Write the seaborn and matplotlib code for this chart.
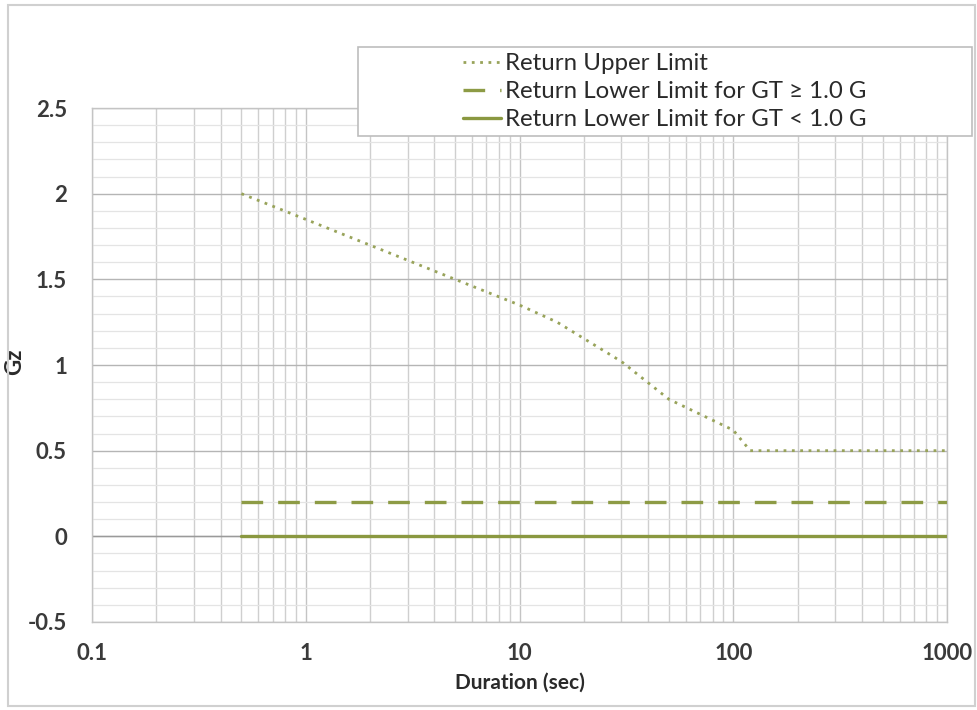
import numpy as np
import pandas as pd
import matplotlib
matplotlib.use("Agg")
import matplotlib.pyplot as plt
import matplotlib.ticker as mticker
from matplotlib.patches import Rectangle
import seaborn as sns

sns.set_theme(style="white")
plt.rcParams['font.family'] = ['Lato', 'DejaVu Sans']

# data
upper_duration = [0.5, 1, 5, 10, 15, 30, 50, 100, 120, 1000]
upper_gz = [2.0, 1.85, 1.5, 1.35, 1.25, 1.02, 0.8, 0.62, 0.5, 0.5]
lower_duration = [0.5, 1000]
lower_gz_high = [0.2, 0.2]
lower_gz_low = [0.0, 0.0]

labels = ["Return Upper Limit",
          "Return Lower Limit for GT \u2265 1.0 G",
          "Return Lower Limit for GT < 1.0 G"]

df_upper = pd.DataFrame({"Duration": upper_duration, "Gz": upper_gz})
df_high = pd.DataFrame({"Duration": lower_duration, "Gz": lower_gz_high})
df_low = pd.DataFrame({"Duration": lower_duration, "Gz": lower_gz_low})

fig = plt.figure(figsize=(9.77, 7.10), dpi=100)
ax = fig.add_axes([92 / 977, 1 - 622 / 710, (947 - 92) / 977, (622 - 108) / 710])

# outer chart border
fig.patches.append(Rectangle((8 / 977, 1 - 706 / 710), (975 - 8) / 977, (706 - 5) / 710,
                             transform=fig.transFigure, fill=False,
                             edgecolor='#d0d0d0', lw=1.5, zorder=0))

ax.set_xscale('log')
ax.set_xlim(0.1, 1000)
ax.set_ylim(-0.5, 2.5)

# grid like Excel
ax.xaxis.set_major_locator(mticker.LogLocator(base=10, numticks=10))
ax.xaxis.set_minor_locator(mticker.LogLocator(base=10, subs=np.arange(2, 10), numticks=20))
ax.yaxis.set_major_locator(mticker.MultipleLocator(0.5))
ax.yaxis.set_minor_locator(mticker.MultipleLocator(0.1))
ax.grid(which='major', axis='x', color='#c4c4c4', lw=1.0)
ax.grid(which='minor', axis='x', color='#cfcfcf', lw=1.0)
ax.grid(which='major', axis='y', color='#b5b5b5', lw=1.0)
ax.grid(which='minor', axis='y', color='#e4e4e4', lw=0.9)
ax.set_axisbelow(True)
ax.axhline(0, color='#9a9a9a', lw=1.0, zorder=1)

for s in ax.spines.values():
    s.set_color('#c4c4c4')
    s.set_linewidth(1.0)

sns.lineplot(data=df_upper, x="Duration", y="Gz", ax=ax, color='#98a35a',
             lw=2.0, linestyle=(0, (1, 2.0)), label=labels[0], zorder=3)
sns.lineplot(data=df_high, x="Duration", y="Gz", ax=ax, color='#8d9b45',
             lw=2.4, linestyle=(0, (6.5, 4.5)), label=labels[1], zorder=3)
sns.lineplot(data=df_low, x="Duration", y="Gz", ax=ax, color='#8a9840',
             lw=2.4, linestyle='-', label=labels[2], zorder=3)

ax.xaxis.set_major_formatter(mticker.FuncFormatter(lambda v, p: f"{v:g}"))
ax.xaxis.set_minor_formatter(mticker.NullFormatter())
ax.yaxis.set_major_formatter(mticker.FuncFormatter(lambda v, p: f"{v:g}"))
ax.tick_params(axis='both', which='both', length=0, labelsize=16,
               labelcolor='#3a3a3a')
ax.tick_params(axis='y', pad=18)
ax.tick_params(axis='x', pad=15)
for t in ax.get_xticklabels() + ax.get_yticklabels():
    t.set_fontweight('bold')

ax.set_xlabel("Duration (sec)", fontsize=15, fontweight='bold', color='#2a2a2a', labelpad=6)
ax.set_ylabel("Gz", fontsize=16, fontweight='bold', color='#2a2a2a')
ax.yaxis.set_label_coords((25 - 92) / 855, (622 - 362) / 514)

# legend box sits over the top right of the plot
handles, leg_labels = ax.get_legend_handles_labels()
ax.get_legend().remove()
leg = fig.legend(handles, leg_labels, loc='upper left',
                 bbox_to_anchor=(463 / 977, 1 - 53 / 710),
                 bbox_transform=fig.transFigure, frameon=False, fontsize=17.3,
                 handlelength=1.6, handletextpad=0.15, labelspacing=0.3,
                 borderaxespad=0, borderpad=0)
for t in leg.get_texts():
    t.set_color('#2a2a2a')
fig.patches.append(Rectangle((358 / 977, 1 - 136 / 710), (972 - 358) / 977, (136 - 47) / 710,
                             transform=fig.transFigure, facecolor='white',
                             edgecolor='#bdbdbd', lw=1.2, zorder=2))
leg.set_zorder(10)

fig.savefig("out.png", dpi=100)
